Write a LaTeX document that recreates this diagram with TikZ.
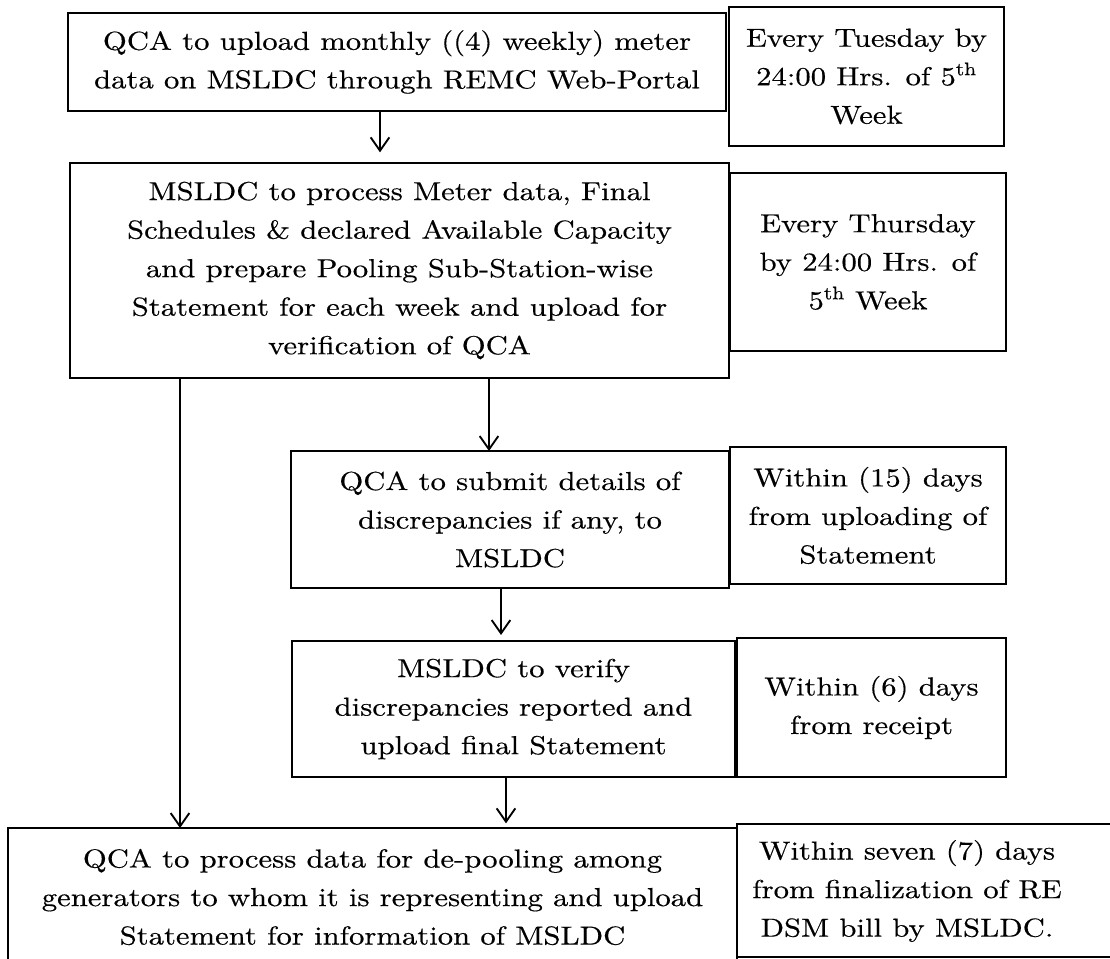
\documentclass[tikz,border=0pt]{standalone}
\usepackage{fontspec}
\setmainfont{lmroman10-regular.otf}[FakeStretch=1.18,FakeBold=0.4]
\usetikzlibrary{arrows.meta}
\begin{document}
\begin{tikzpicture}[x=0.75pt,y=-0.75pt,
  every node/.style={font=\fontsize{19.5}{28.9}\selectfont, align=center},
  bx/.style 2 args={draw=black, line width=1.2pt, rectangle, inner sep=0pt, outer sep=0pt,
     minimum width=#1*0.75pt, minimum height=#2*0.75pt},
  arr/.style={draw=black, line width=1.4pt, -{Straight Barb[length=10pt,width=14pt,line width=1.4pt]}}]
\useasboundingbox (0,0) rectangle (1110,959);
\clip (0,0) rectangle (1110,959);
\fill[white] (0,0) rectangle (1110,959);
% process boxes
\node[bx={658}{98}] (b1) at (397,62) {QCA to upload monthly ((4) weekly) meter\\data on MSLDC through REMC Web-Portal};
\node[bx={659}{215}] (b2) at (399.5,270.5) {MSLDC to process Meter data, Final\\Schedules \& declared Available Capacity\\and prepare Pooling Sub-Station-wise\\Statement for each week and upload for\\verification of QCA};
\node[bx={438}{137}] (b3) at (510,519.5) {QCA to submit details of\\discrepancies if any, to\\MSLDC};
\node[bx={443}{136}] (b4) at (513.5,709) {MSLDC to verify\\discrepancies reported and\\upload final Statement};
\node[bx={729}{138}] (b5) at (372.5,897) {QCA to process data for de-pooling among\\generators to whom it is representing and upload\\Statement for information of MSLDC};
% time boxes
\node[bx={275}{139}] (t1) at (866.5,76.5) {Every Tuesday by\\24:00 Hrs. of 5\textsuperscript{th}\\Week};
\node[bx={276}{178}] (t2) at (868,262) {Every Thursday\\by 24:00 Hrs. of\\5\textsuperscript{th} Week};
\node[bx={276}{137}] (t3) at (868,515.5) {Within (15) days\\from uploading of\\Statement};
\node[bx={269}{139}] (t4) at (871.5,707.5) {Within (6) days\\from receipt};
\node[bx={393}{133}] (t5) at (933.5,890.5) {};
\node (t5txt) at (907,891) {Within seven (7) days\\from finalization of RE\\DSM bill by MSLDC.};
% connectors
\coordinate (x1) at (380,0);
\coordinate (x2) at (489,0);
\coordinate (x3) at (501,0);
\coordinate (x4) at (506,0);
\coordinate (xL) at (180,0);
\draw[arr, shorten >=8pt] (b1.south -| x1) -- (b2.north -| x1);
\draw[arr] (b2.south -| x2) -- (b3.north -| x2);
\draw[arr, shorten >=4.5pt] (b3.south -| x3) -- (b4.north -| x3);
\draw[arr, shorten >=3.5pt] (b4.south -| x4) -- (b5.north -| x4);
\draw[arr] (b2.south -| xL) -- (b5.north -| xL);
\end{tikzpicture}
\end{document}
